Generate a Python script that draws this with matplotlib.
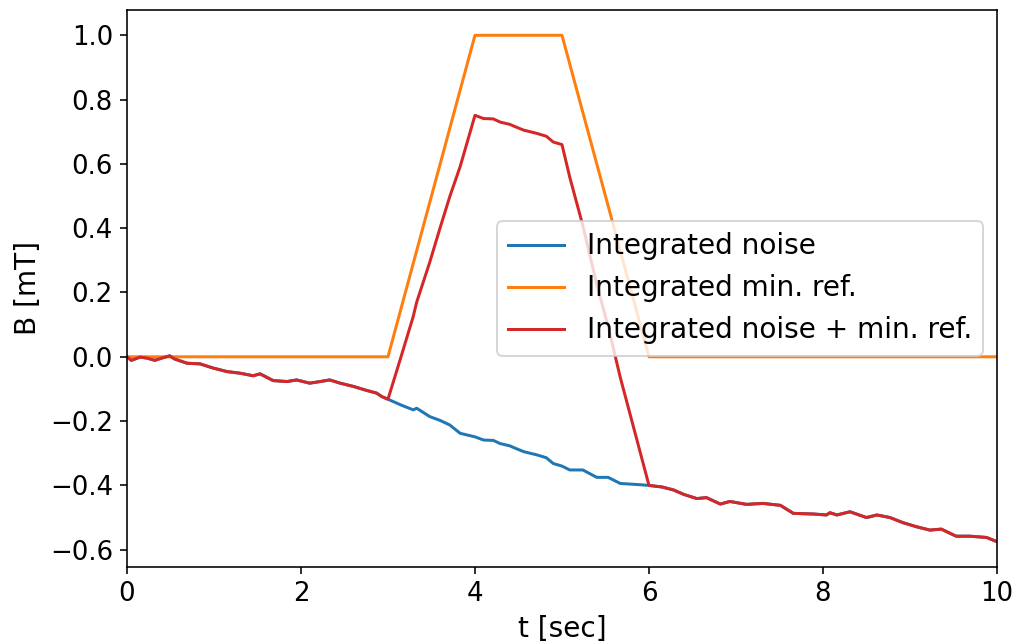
import numpy as np
import matplotlib
matplotlib.use("Agg")
import matplotlib.pyplot as plt

# Integrated noise (mT) sampled over time (s)
t = np.array([
    0.00, 0.05, 0.15, 0.23, 0.32, 0.40, 0.49, 0.55, 0.69, 0.84,
    0.99, 1.15, 1.30, 1.45, 1.53, 1.68, 1.84, 1.95, 2.10, 2.22,
    2.33, 2.45, 2.60, 2.76, 2.87, 2.93, 3.00, 3.15, 3.29, 3.33,
    3.48, 3.60, 3.71, 3.83, 4.00, 4.10, 4.21, 4.29, 4.40, 4.46,
    4.56, 4.71, 4.82, 4.90, 5.00, 5.09, 5.24, 5.40, 5.53, 5.67,
    5.85, 6.00, 6.15, 6.28, 6.40, 6.55, 6.66, 6.82, 6.93, 7.12,
    7.31, 7.51, 7.66, 7.89, 8.04, 8.08, 8.16, 8.31, 8.50, 8.62,
    8.77, 8.92, 9.08, 9.23, 9.36, 9.53, 9.69, 9.88, 10.00,
])
noise = np.array([
    0.000, -0.011, -0.001, -0.004, -0.011, -0.004, 0.003, -0.007, -0.020, -0.022,
    -0.035, -0.046, -0.051, -0.059, -0.053, -0.074, -0.077, -0.072, -0.082, -0.077,
    -0.072, -0.082, -0.092, -0.105, -0.113, -0.124, -0.132, -0.150, -0.165, -0.160,
    -0.186, -0.198, -0.212, -0.238, -0.249, -0.259, -0.260, -0.270, -0.277, -0.284,
    -0.295, -0.305, -0.314, -0.332, -0.340, -0.352, -0.352, -0.375, -0.375, -0.394,
    -0.397, -0.400, -0.405, -0.414, -0.428, -0.441, -0.438, -0.458, -0.450, -0.459,
    -0.456, -0.462, -0.487, -0.489, -0.492, -0.485, -0.492, -0.482, -0.500, -0.492,
    -0.500, -0.516, -0.529, -0.539, -0.536, -0.558, -0.558, -0.562, -0.575,
])

# Minimum reference field: trapezoidal pulse (breakpoints)
ref_t = np.array([0.0, 3.0, 4.0, 5.0, 6.0, 10.0])
ref_b = np.array([0.0, 0.0, 1.0, 1.0, 0.0, 0.0])

combined = noise + np.interp(t, ref_t, ref_b)

DPI = 144
plt.rcParams["font.size"] = 14
plt.rcParams["xtick.labelsize"] = 13
plt.rcParams["ytick.labelsize"] = 13
fig = plt.figure(figsize=(1019 / DPI, 644 / DPI), dpi=DPI)
ax = fig.add_axes([0.1246, 0.1196, 0.8538, 0.8649])

ax.plot(t, noise, color="tab:blue", lw=1.5, label="Integrated noise")
ax.plot(ref_t, ref_b, color="tab:orange", lw=1.5, label="Integrated min. ref.")
ax.plot(t, combined, color="tab:red", lw=1.5, label="Integrated noise + min. ref.")

ax.set_xlim(0, 10)
ax.set_xlabel("t [sec]")
ax.set_ylabel("B [mT]")
ax.legend(loc="center right")

fig.savefig("out.png", dpi=DPI)
